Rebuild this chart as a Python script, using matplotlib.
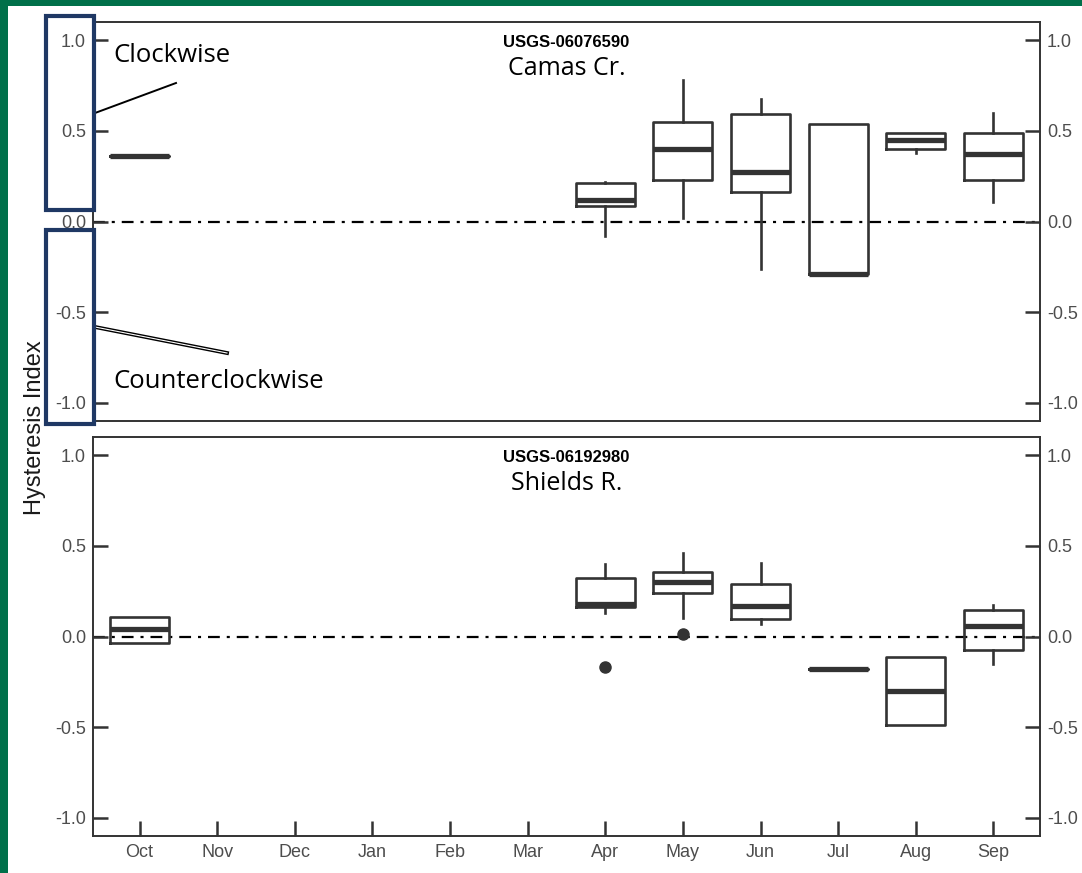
import matplotlib
matplotlib.use("Agg")
import matplotlib.pyplot as plt
from matplotlib.patches import Rectangle
from matplotlib.lines import Line2D

plt.rcParams['font.family'] = ['Liberation Sans', 'DejaVu Sans']
plt.rcParams['lines.scale_dashes'] = False

# ---- data -------------------------------------------------------------
months = ['Oct', 'Nov', 'Dec', 'Jan', 'Feb', 'Mar',
          'Apr', 'May', 'Jun', 'Jul', 'Aug', 'Sep']
yticks = [-1.0, -0.5, 0.0, 0.5, 1.0]

# Camas Cr. (USGS-06076590)
camas_months = ['Oct', 'Apr', 'May', 'Jun', 'Jul', 'Aug', 'Sep']
camas_whislo = [0.36, -0.08, 0.02, -0.26, -0.29, 0.38, 0.11]
camas_q1 = [0.36, 0.085, 0.23, 0.165, -0.29, 0.40, 0.23]
camas_med = [0.36, 0.12, 0.40, 0.275, -0.29, 0.45, 0.37]
camas_q3 = [0.36, 0.21, 0.55, 0.595, 0.54, 0.49, 0.49]
camas_whishi = [0.36, 0.22, 0.78, 0.675, 0.54, 0.49, 0.60]
camas_fliers = [[], [], [], [], [], [], []]

# Shields R. (USGS-06192980)
shields_months = ['Oct', 'Apr', 'May', 'Jun', 'Jul', 'Aug', 'Sep']
shields_whislo = [-0.035, 0.13, 0.10, 0.07, -0.18, -0.49, -0.15]
shields_q1 = [-0.035, 0.16, 0.24, 0.095, -0.18, -0.49, -0.075]
shields_med = [0.04, 0.18, 0.30, 0.17, -0.18, -0.30, 0.06]
shields_q3 = [0.105, 0.325, 0.355, 0.29, -0.18, -0.115, 0.145]
shields_whishi = [0.105, 0.40, 0.46, 0.405, -0.18, -0.115, 0.175]
shields_fliers = [[], [-0.17], [0.015], [], [], [], []]

panels = [
    ('USGS-06076590', 'Camas Cr.', camas_months, camas_whislo, camas_q1,
     camas_med, camas_q3, camas_whishi, camas_fliers),
    ('USGS-06192980', 'Shields R.', shields_months, shields_whislo, shields_q1,
     shields_med, shields_q3, shields_whishi, shields_fliers),
]

# ---- style ------------------------------------------------------------
W, H = 1082, 873
INK = '#333333'
LABEL = '#4d4d4d'
NAVY = '#1f3864'
GREEN = '#00704a'

fig = plt.figure(figsize=(W / 100, H / 100), dpi=100)
fig.patch.set_facecolor('white')


def fx(px):
    return px / W


def fy(py):
    return 1 - py / H


ax_left, ax_right = 93, 1040
axes_rows = [(22, 421), (437, 836)]

for i, (site, name, mlist, wlo, q1, med, q3, whi, fl) in enumerate(panels):
    top, bot = axes_rows[i]
    ax = fig.add_axes([fx(ax_left), fy(bot), fx(ax_right - ax_left),
                       (bot - top) / H])
    stats = []
    pos = []
    for m, a, b, c, d, e, f in zip(mlist, wlo, q1, med, q3, whi, fl):
        stats.append(dict(whislo=a, q1=b, med=c, q3=d, whishi=e, fliers=f))
        pos.append(months.index(m) + 1)
    ax.bxp(stats, positions=pos, widths=0.76, showcaps=False,
           boxprops=dict(color=INK, linewidth=1.9),
           whiskerprops=dict(color=INK, linewidth=1.9),
           medianprops=dict(color=INK, linewidth=3.8, solid_capstyle='butt'),
           flierprops=dict(marker='o', markerfacecolor=INK,
                           markeredgecolor=INK, markersize=8),
           manage_ticks=False)
    ax.axhline(0, color='black', linewidth=1.6,
               linestyle=(0, (8.5, 5, 2.2, 5)), zorder=1)

    ax.set_xlim(0.4, 12.6)
    ax.set_ylim(-1.1, 1.1)
    ax.set_yticks(yticks)
    ax.set_yticklabels([f'{v:.1f}' for v in yticks])
    ax.set_xticks(range(1, 13))
    if i == 1:
        ax.set_xticklabels(months)
        ax.tick_params(axis='x', direction='in', length=11, width=1.8,
                       color=INK, labelcolor=LABEL, labelsize=13, pad=6)
    else:
        ax.tick_params(axis='x', bottom=False, labelbottom=False)
    ax.tick_params(axis='y', direction='in', length=11, width=1.8,
                   color=INK, labelcolor=LABEL, labelsize=13, pad=5,
                   left=True, right=True, labelleft=True, labelright=True)
    for sp in ax.spines.values():
        sp.set_color(INK)
        sp.set_linewidth(1.4)

    ax.text(0.5, 1 - 20 / (bot - top), site, transform=ax.transAxes,
            ha='center', va='center', fontsize=12, fontweight='bold',
            color='black')
    ax.text(0.5, 1 - 46 / (bot - top), name, transform=ax.transAxes,
            ha='center', va='center', fontsize=18, family='Open Sans',
            color='black')

fig.text(fx(35), fy(428), 'Hysteresis Index', rotation=90, ha='center',
         va='center', fontsize=17, color='#1a1a1a')

# direction call-outs
fig.text(fx(113), fy(56), 'Clockwise', ha='left', va='center',
         fontsize=18.5, family='Open Sans', color='black')
fig.text(fx(113), fy(381), 'Counterclockwise', ha='left', va='center',
         fontsize=18.5, family='Open Sans', color='black')

fig.add_artist(Line2D([fx(95), fx(176)], [fy(113), fy(83)],
                      color='black', linewidth=1.4, zorder=10))
fig.add_artist(Line2D([fx(95), fx(227)], [fy(327), fy(353)],
                      color='black', linewidth=2.8, zorder=10))
fig.add_artist(Line2D([fx(95), fx(227)], [fy(327), fy(353)],
                      color='white', linewidth=0.8, zorder=11))

for y0, y1 in [(16, 210), (230, 424)]:
    fig.add_artist(Rectangle((fx(46), fy(y1)), fx(94 - 46), (y1 - y0) / H,
                             fill=False, edgecolor=NAVY, linewidth=3,
                             zorder=12))

# frame strips
fig.add_artist(Rectangle((0, fy(6)), 1, 6 / H, facecolor=GREEN,
                         edgecolor='none', zorder=20))
fig.add_artist(Rectangle((0, 0), fx(8), 1, facecolor=GREEN,
                         edgecolor='none', zorder=20))

fig.savefig('out.png', dpi=100)
